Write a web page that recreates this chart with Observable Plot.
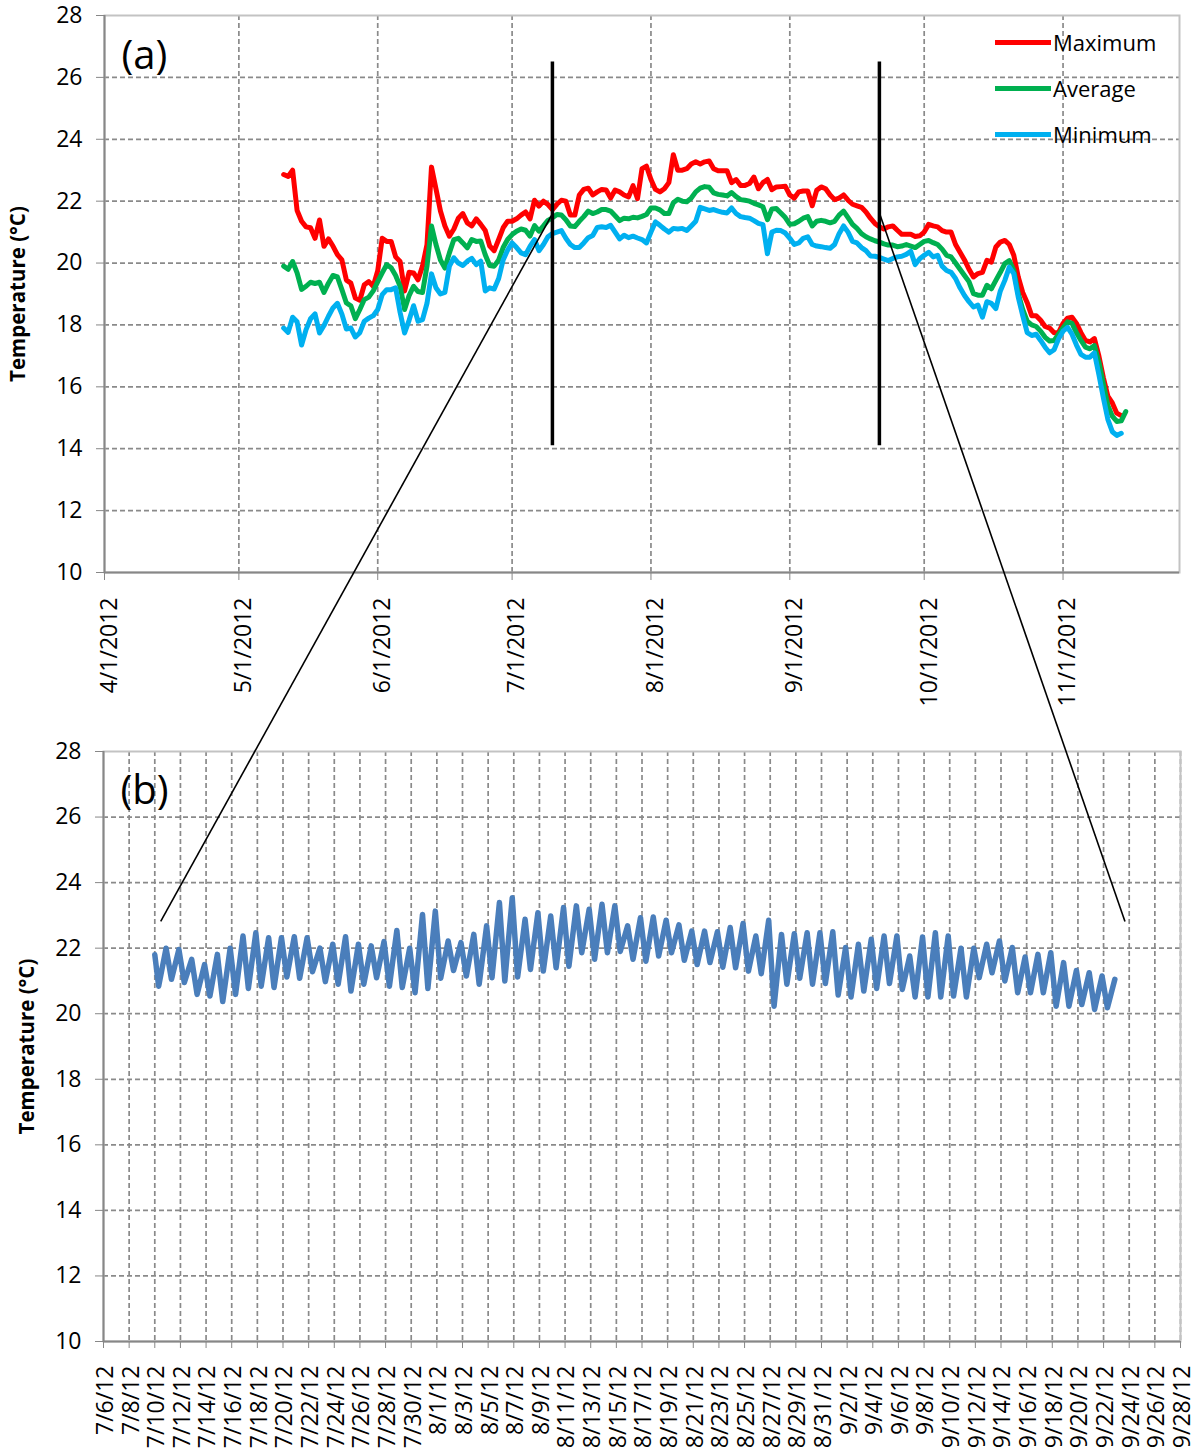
<!DOCTYPE html>
<html>
<head>
<meta charset="utf-8">
<script src="https://cdn.jsdelivr.net/npm/d3@7"></script>
<script src="https://cdn.jsdelivr.net/npm/@observablehq/plot@0.6"></script>
<style>
  body { margin: 0; background: #fff; font-family: "Open Sans", sans-serif; }
  #wrap { position: relative; width: 1201px; height: 1454px; overflow: hidden; }
  #wrap > svg { position: absolute; left: 0; }
  #overlay { position: absolute; left: 0; top: 0; pointer-events: none; }
  .legend { position: absolute; left: 995px; top: 26px; font-family: "Open Sans", sans-serif; font-size: 22px; color: #000; }
  .legend .item { position: relative; height: 46px; }
  .legend .sw { position: absolute; left: 0; top: 14px; width: 56px; height: 4.5px; }
  .legend .lb { position: absolute; left: 58px; top: 0px; line-height: 32px; white-space: nowrap; }
</style>
</head>
<body>
<div id="wrap"></div>
<script>
// ---------------- Panel (a): daily series ----------------
const seriesNames = ["Maximum", "Average", "Minimum"];
const seriesColors = ["#ff0000", "#00b050", "#00b0f0"];
const dailyStart = "2012-05-11"; // first day of the daily series

const maxTemp = [
  22.86, 22.8, 23.0, 21.7, 21.35, 21.17, 21.14, 20.8, 21.39, 20.54,
  20.78, 20.55, 20.27, 20.1, 19.45, 19.35, 18.87, 18.8, 19.3, 19.4,
  19.25, 19.75, 20.8, 20.7, 20.7, 20.2, 20.05, 19.1, 19.7, 19.68,
  19.46, 19.9, 20.6, 23.1, 22.4, 21.68, 21.2, 20.87, 21.1, 21.45,
  21.6, 21.3, 21.2, 21.43, 21.25, 21.05, 20.55, 20.4, 20.76, 21.14,
  21.35, 21.35, 21.43, 21.55, 21.65, 21.43, 22.03, 21.84, 22.0, 21.89,
  21.73, 21.9, 22.03, 22.0, 21.55, 21.55, 22.2, 22.38, 22.42, 22.2,
  22.3, 22.38, 22.36, 22.1, 22.36, 22.3, 22.2, 22.14, 22.5, 22.08,
  23.05, 23.13, 22.7, 22.38, 22.3, 22.4, 22.6, 23.5, 23.0, 23.0,
  23.05, 23.2, 23.27, 23.2, 23.27, 23.3, 23.05, 22.98, 22.98, 22.98,
  22.6, 22.7, 22.51, 22.51, 22.57, 22.78, 22.4, 22.6, 22.7, 22.37,
  22.46, 22.47, 22.48, 22.2, 22.1, 22.3, 22.33, 22.33, 21.85, 22.35,
  22.46, 22.4, 22.2, 22.05, 22.1, 22.2, 22.03, 21.9, 21.85, 21.8,
  21.65, 21.45, 21.28, 21.17, 21.1, 21.17, 21.2, 21.06, 20.93, 20.93,
  20.93, 20.86, 20.88, 21.0, 21.25, 21.2, 21.17, 21.05, 21.0, 21.0,
  20.6, 20.35, 20.1, 19.8, 19.55, 19.66, 19.7, 20.09, 20.03, 20.52,
  20.68, 20.73, 20.6, 20.25, 19.55, 19.05, 18.72, 18.3, 18.3, 18.15,
  17.95, 17.9, 17.75, 17.75, 18.05, 18.22, 18.25, 18.05, 17.75, 17.5,
  17.45, 17.56, 17.0, 16.3, 15.7, 15.48, 15.15, 15.07
];

const avgTemp = [
  19.9, 19.8, 20.05, 19.68, 19.15, 19.25, 19.38, 19.34, 19.38, 19.05,
  19.35, 19.6, 19.55, 19.14, 18.71, 18.62, 18.2, 18.5, 18.82, 18.9,
  19.1, 19.4, 19.68, 19.95, 19.85, 19.6, 19.25, 18.5, 18.95, 19.25,
  19.08, 19.05, 19.9, 21.2, 20.6, 20.1, 19.84, 20.33, 20.76, 20.8,
  20.65, 20.49, 20.76, 20.7, 20.71, 20.27, 19.92, 19.9, 20.1, 20.5,
  20.76, 20.92, 21.03, 21.1, 21.06, 20.87, 21.21, 21.03, 21.2, 21.38,
  21.46, 21.57, 21.55, 21.4, 21.2, 21.18, 21.35, 21.5, 21.68, 21.6,
  21.65, 21.73, 21.73, 21.68, 21.53, 21.37, 21.45, 21.43, 21.48, 21.46,
  21.51, 21.57, 21.78, 21.78, 21.72, 21.6, 21.6, 21.95, 22.06, 22.0,
  21.98, 22.1, 22.3, 22.42, 22.47, 22.45, 22.27, 22.22, 22.2, 22.17,
  22.28, 22.15, 22.05, 22.03, 22.0, 21.93, 21.88, 21.82, 21.4, 21.75,
  21.76, 21.62, 21.47, 21.25, 21.27, 21.35, 21.45, 21.5, 21.2, 21.35,
  21.38, 21.35, 21.3, 21.35, 21.55, 21.68, 21.47, 21.25, 21.12, 20.95,
  20.85, 20.78, 20.72, 20.68, 20.62, 20.58, 20.58, 20.53, 20.55, 20.6,
  20.55, 20.5, 20.6, 20.7, 20.73, 20.66, 20.6, 20.45, 20.25, 20.2,
  20.0, 19.8, 19.6, 19.4, 19.01, 18.96, 18.96, 19.28, 19.17, 19.44,
  19.7, 19.98, 20.08, 19.76, 19.01, 18.5, 18.12, 18.0, 17.95, 17.8,
  17.6, 17.48, 17.5, 17.7, 17.9, 18.1, 18.05, 17.75, 17.5, 17.28,
  17.23, 17.33, 16.8, 16.1, 15.4, 15.05, 14.88, 14.9, 15.2
];

const minTemp = [
  17.9, 17.76, 18.25, 18.1, 17.35, 17.85, 18.2, 18.36, 17.74, 17.98,
  18.28, 18.55, 18.7, 18.35, 17.87, 17.9, 17.61, 17.75, 18.12, 18.22,
  18.3, 18.5, 18.98, 19.14, 19.14, 19.2, 18.4, 17.74, 18.15, 18.62,
  18.12, 18.17, 18.7, 19.65, 19.2, 19.0, 19.05, 19.9, 20.17, 20.0,
  19.92, 20.06, 20.15, 19.95, 20.06, 19.1, 19.2, 19.16, 19.5, 20.1,
  20.42, 20.65, 20.5, 20.33, 20.27, 20.54, 20.76, 20.4, 20.6, 20.85,
  20.95, 21.0, 21.05, 20.8, 20.6, 20.5, 20.5, 20.65, 20.82, 20.89,
  21.15, 21.17, 21.15, 21.22, 21.0, 20.78, 20.9, 20.82, 20.87, 20.81,
  20.76, 20.65, 21.0, 21.33, 21.22, 21.1, 21.0, 21.12, 21.1, 21.12,
  21.05, 21.2, 21.35, 21.8, 21.75, 21.7, 21.73, 21.68, 21.64, 21.62,
  21.78, 21.6, 21.5, 21.47, 21.45, 21.37, 21.28, 21.24, 20.3, 21.0,
  21.06, 21.05, 20.97, 20.8, 20.6, 20.65, 20.8, 20.85, 20.6, 20.55,
  20.53, 20.5, 20.48, 20.6, 20.95, 21.2, 21.0, 20.7, 20.65, 20.5,
  20.4, 20.23, 20.22, 20.18, 20.13, 20.08, 20.15, 20.2, 20.22, 20.28,
  20.38, 19.95, 20.14, 20.25, 20.35, 20.2, 20.25, 19.9, 19.76, 19.7,
  19.5, 19.2, 18.95, 18.75, 18.58, 18.64, 18.25, 18.75, 18.7, 18.53,
  19.1, 19.44, 19.87, 19.66, 18.9, 18.3, 17.75, 17.66, 17.7, 17.5,
  17.28, 17.1, 17.2, 17.55, 17.8, 17.92, 17.7, 17.35, 17.05, 16.96,
  16.96, 17.1, 16.4, 15.65, 14.95, 14.55, 14.43, 14.5
];

const aXDomain = ["2012-04-01", "2012-11-27"];
const aMonthTicks = ["2012-04-01", "2012-05-01", "2012-06-01", "2012-07-01", "2012-08-01", "2012-09-01", "2012-10-01", "2012-11-01"];
const yTicks = [10, 12, 14, 16, 18, 20, 22, 24, 26, 28];

// zoom window markers on panel (a)
const markerDates = ["2012-07-10", "2012-09-21"];
const markerRange = [14.1, 26.5];

// ---------------- Panel (b): zoomed record ----------------
const zoomFirstDay = "2012-07-10";
const zoomStartValue = 21.8;
// daily trough (early morning) and peak (late evening), 7/10 .. 9/22
const zoomLow = [
  20.84, 21.05, 20.95, 20.59, 20.54, 20.37, 20.59, 20.77, 20.84, 20.8,
  21.12, 21.08, 21.28, 20.98, 20.9, 20.69, 20.9, 21.1, 20.84, 20.8,
  20.64, 20.77, 21.08, 21.32, 21.15, 20.9, 21.1, 21.0, 21.12, 21.35,
  21.3, 21.4, 21.45, 21.86, 21.66, 21.86, 21.9, 21.66, 21.6, 21.76,
  21.86, 21.63, 21.5, 21.56, 21.42, 21.4, 21.3, 21.22, 20.23, 20.9,
  21.08, 20.9, 20.92, 20.57, 20.51, 20.69, 20.77, 20.92, 20.74, 20.51,
  20.51, 20.51, 20.54, 20.51, 21.1, 21.25, 21.0, 20.64, 20.64, 20.64,
  20.23, 20.23, 20.28, 20.13, 20.18
];
const zoomHigh = [
  22.0, 21.96, 21.66, 21.5, 21.81, 22.0, 22.37, 22.47, 22.32, 22.32,
  22.35, 22.32, 22.0, 22.12, 22.35, 22.12, 22.07, 22.2, 22.54, 22.0,
  23.03, 23.13, 22.22, 22.17, 22.42, 22.68, 23.39, 23.54, 22.88, 23.08,
  22.98, 23.24, 23.29, 23.19, 23.34, 23.29, 22.68, 22.93, 22.95, 22.85,
  22.71, 22.52, 22.52, 22.5, 22.63, 22.75, 22.37, 22.85, 22.42, 22.44,
  22.47, 22.47, 22.5, 22.02, 22.12, 22.27, 22.37, 22.37, 21.76, 22.34,
  22.47, 22.37, 22.0, 22.0, 22.12, 22.22, 22.02, 21.73, 21.81, 21.86,
  21.56, 21.32, 21.25, 21.15, 21.05
];
const bXDomain = ["2012-07-06", "2012-09-28"];

// connector anchor points: [date, temperature] in panel (a) and panel (b)
const connectA = [["2012-07-10T00:00", 21.55], ["2012-09-21T00:00", 21.65]];
const connectB = [["2012-07-10T12:00", 22.8], ["2012-09-23T17:00", 22.8]];

// ---------------- build tables ----------------
const utc = s => new Date(s.length > 10 ? s + ":00Z" : s + "T00:00:00Z");
const DAY = 864e5;
const t0 = utc(dailyStart).getTime();
const rowsA = [];
[maxTemp, avgTemp, minTemp].forEach((arr, k) => {
  arr.forEach((v, i) => rowsA.push({date: new Date(t0 + i * DAY), value: v, series: seriesNames[k]}));
});

const z0 = utc(zoomFirstDay).getTime();
const rowsB = [{date: new Date(z0), value: zoomStartValue}];
zoomLow.forEach((lo, i) => {
  rowsB.push({date: new Date(z0 + (i + 0.3) * DAY), value: lo});
  rowsB.push({date: new Date(z0 + (i + 0.88) * DAY), value: zoomHigh[i]});
});
const bTicks = d3.utcDay.range(utc(bXDomain[0]), new Date(utc(bXDomain[1]).getTime() + DAY), 2);

const gridStyle = {stroke: "#8a8a8a", strokeOpacity: 1, strokeWidth: 1.7, strokeDasharray: "5,3"};
const font = "'Open Sans', sans-serif";

const plotA = Plot.plot({
  width: 1201, height: 740,
  marginTop: 15, marginBottom: 168, marginLeft: 104, marginRight: 22,
  style: {fontFamily: font, fontSize: "23px", color: "#000", background: "transparent", overflow: "visible"},
  x: {type: "utc", domain: aXDomain.map(utc)},
  y: {domain: [10, 28]},
  color: {domain: seriesNames, range: seriesColors},
  marks: [
    Plot.gridX(aMonthTicks.map(utc).slice(1), gridStyle),
    Plot.gridY(yTicks.slice(1, -1), gridStyle),
    Plot.frame({stroke: "#c3c3c3", strokeWidth: 2}),
    Plot.ruleY([10], {stroke: "#878787", strokeWidth: 2}),
    Plot.ruleX([utc(aXDomain[0])], {stroke: "#878787", strokeWidth: 2}),
    Plot.axisX({ticks: aMonthTicks.map(utc), tickFormat: d3.utcFormat("%-m/%-d/%Y"), tickRotate: -90,
      tickSize: 8, tickPadding: 17, label: null, stroke: "#878787", fill: "#000"}),
    Plot.axisY({ticks: yTicks, tickSize: 8, tickPadding: 14, label: "Temperature (°C)", labelArrow: "none",
      labelAnchor: "center", labelOffset: 94, stroke: "#878787", fill: "#000"}),
    Plot.line(rowsA, {x: "date", y: "value", stroke: "series", strokeWidth: 5}),
    Plot.ruleX(markerDates.map(utc), {y1: markerRange[0], y2: markerRange[1], stroke: "#000", strokeWidth: 3.5}),
    Plot.text(["(a)"], {frameAnchor: "top-left", dx: 17, dy: 53, lineAnchor: "bottom", textAnchor: "start", fontSize: 40})
  ]
});

const plotB = Plot.plot({
  width: 1201, height: 714,
  marginTop: 11, marginBottom: 113, marginLeft: 103, marginRight: 21,
  style: {fontFamily: font, fontSize: "23px", color: "#000", background: "transparent", overflow: "visible"},
  x: {type: "utc", domain: bXDomain.map(utc)},
  y: {domain: [10, 28]},
  marks: [
    Plot.gridX(bTicks.slice(1), gridStyle),
    Plot.gridY(yTicks.slice(1, -1), gridStyle),
    Plot.frame({stroke: "#c3c3c3", strokeWidth: 2}),
    Plot.ruleY([10], {stroke: "#878787", strokeWidth: 2}),
    Plot.ruleX([utc(bXDomain[0])], {stroke: "#878787", strokeWidth: 2}),
    Plot.axisX({ticks: bTicks, tickFormat: d3.utcFormat("%-m/%-d/%y"), tickRotate: -90,
      tickSize: 7, tickPadding: 17, label: null, stroke: "#878787", fill: "#000"}),
    Plot.axisY({ticks: yTicks, tickSize: 8, tickPadding: 14, label: "Temperature (°C)", labelArrow: "none",
      labelAnchor: "center", labelOffset: 84, stroke: "#878787", fill: "#000"}),
    Plot.line(rowsB, {x: "date", y: "value", stroke: "#4a7ebb", strokeWidth: 5.5}),
    Plot.text(["(b)"], {frameAnchor: "top-left", dx: 17, dy: 52, lineAnchor: "bottom", textAnchor: "start", fontSize: 40})
  ]
});

const wrap = document.getElementById("wrap");
plotA.style.top = "0px";
plotB.style.top = "740px";
wrap.appendChild(plotA);
wrap.appendChild(plotB);

for (const p of [plotA, plotB]) {
  d3.select(p).selectAll('g[aria-label="y-axis label"] text')
    .attr("font-weight", "bold").attr("font-size", 20.5)
    .text("Temperature (°C)");
}
// nudge rotated date labels slightly right of their ticks, as in the reference
[[plotA, 5], [plotB, 2]].forEach(([p, off]) => {
  d3.select(p).selectAll('g[aria-label="x-axis tick label"] text').each(function () {
    const t = this.getAttribute("transform") || "";
    this.setAttribute("transform", `translate(${off},0) ${t}`);
  });
});

// legend (HTML)
const legend = document.createElement("div");
legend.className = "legend";
seriesNames.forEach((name, i) => {
  const item = document.createElement("div");
  item.className = "item";
  item.innerHTML = `<div class="sw" style="background:${seriesColors[i]}"></div><div class="lb">${name}</div>`;
  legend.appendChild(item);
});
wrap.appendChild(legend);

// connectors drawn through both plots' scales
const xa = plotA.scale("x"), ya = plotA.scale("y");
const xb = plotB.scale("x"), yb = plotB.scale("y");
const overlay = d3.select(wrap).append("svg").attr("id", "overlay").attr("width", 1201).attr("height", 1454);
connectA.forEach((a, i) => {
  const b = connectB[i];
  overlay.append("line")
    .attr("x1", xa.apply(utc(a[0]))).attr("y1", ya.apply(a[1]))
    .attr("x2", xb.apply(utc(b[0]))).attr("y2", 740 + yb.apply(b[1]))
    .attr("stroke", "#000").attr("stroke-width", 1.6);
});
</script>
</body>
</html>
